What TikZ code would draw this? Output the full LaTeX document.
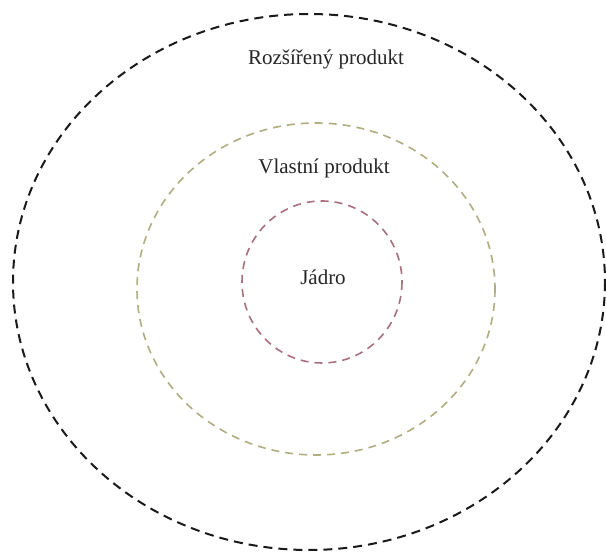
\documentclass[tikz,border=0pt]{standalone}
\usepackage{fontspec}
\setmainfont{Liberation Serif}
\definecolor{outerc}{HTML}{1A1A1A}
\definecolor{midc}{HTML}{B0AE80}
\definecolor{innerc}{HTML}{A8707C}
\begin{document}
\begin{tikzpicture}[x=1pt,y=-1pt,
  ring/.style={line width=2pt, dash pattern=on 9pt off 6pt},
  lbl/.style={font=\fontsize{21}{24}\selectfont, text=black!85, inner sep=0pt}]
\useasboundingbox (0,0) rectangle (606,553);
\fill[white] (0,0) rectangle (606,553);
\draw[ring, outerc] (309,282) ellipse [x radius=296, y radius=268];
\draw[ring, midc, line width=1.6pt, dash pattern=on 8pt off 6pt] (316,289) ellipse [x radius=179, y radius=166];
\draw[ring, innerc, line width=1.6pt, dash pattern=on 8pt off 6pt] (322,282) ellipse [x radius=80, y radius=81];
\node[lbl] (rozs) at (326,59) {Rozšířený produkt};
\node[lbl] (vlast) at (324,168) {Vlastní produkt};
\node[lbl] (jadro) at (323,277) {Jádro};
\end{tikzpicture}
\end{document}
